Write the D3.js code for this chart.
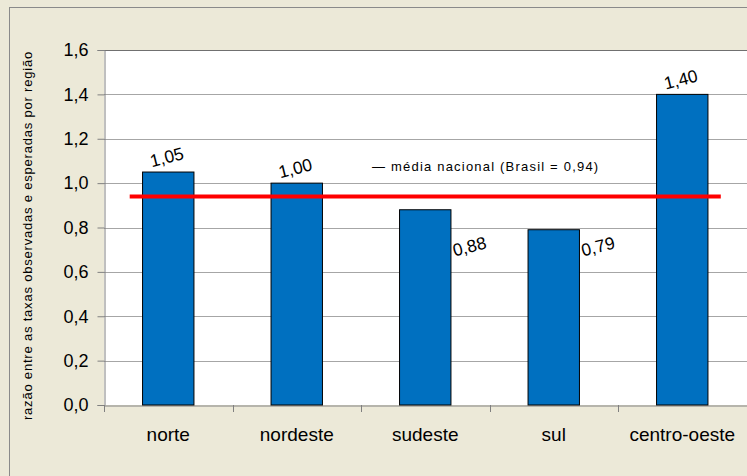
<!DOCTYPE html>
<html>
<head>
<meta charset="utf-8">
<script src="https://cdn.jsdelivr.net/npm/d3@7"></script>
<style>
  body { margin: 0; background: #ECE9D8; }
  text { font-family: "Liberation Sans", Arial, sans-serif; }
</style>
</head>
<body>
<div id="chart-area"></div>
<script>
// data
const regions = ["norte", "nordeste", "sudeste", "sul", "centro-oeste"]
const ratios = [1.05, 1.00, 0.88, 0.79, 1.40]
const labelPlace = ["top", "top", "right", "right", "top"]
const refValue = 0.94
const yTicks = [0, 0.2, 0.4, 0.6, 0.8, 1.0, 1.2, 1.4, 1.6]
const yTitle = "razão entre as taxas observadas e esperadas por região"
const refLabel = "— média nacional (Brasil = 0,94)"

const W = 747, H = 476
const MARGIN = { LEFT: 104, TOP: 50, RIGHT: 0.5, BOTTOM: 71 }
const WIDTH = W - MARGIN.LEFT - MARGIN.RIGHT
const HEIGHT = H - MARGIN.TOP - MARGIN.BOTTOM

const fmt = v => d3.format(".2f")(v).replace(".", ",")
const fmtTick = v => d3.format(".1f")(v).replace(".", ",")

const svg = d3.select("#chart-area").append("svg")
  .attr("width", W)
  .attr("height", H)

// outer chart area
svg.append("rect")
  .attr("x", 9.5).attr("y", 7.5)
  .attr("width", W + 20).attr("height", H + 20)
  .attr("fill", "#ECE9D8")
  .attr("stroke", "#8a8a8a")

const g = svg.append("g")
  .attr("transform", `translate(${MARGIN.LEFT}, ${MARGIN.TOP})`)

g.append("rect")
  .attr("width", WIDTH + 10).attr("height", HEIGHT)
  .attr("fill", "#fff")

const x = d3.scaleBand()
  .domain(regions)
  .range([0, WIDTH])
  .paddingInner(0.6)
  .paddingOuter(0.3)

const step = x.step()

const y = d3.scaleLinear()
  .domain([0, 1.6])
  .range([HEIGHT, 0])

// gridlines
g.selectAll(".grid").data(yTicks.filter(d => d > 0))
  .enter().append("line")
  .attr("x1", 0).attr("x2", WIDTH + 10)
  .attr("y1", d => Math.round(y(d)) + 0.5).attr("y2", d => Math.round(y(d)) + 0.5)
  .attr("stroke", d => d === 1.6 ? "#707070" : "#a6a6a6")
  .attr("stroke-width", 1)

// y axis
const yAxis = g.append("g")
  .attr("transform", "translate(0.5,0)")
  .call(d3.axisLeft(y).tickValues(yTicks).tickFormat(fmtTick).tickSize(7).tickPadding(9))
yAxis.select(".domain").attr("stroke", "#808080")
yAxis.selectAll(".tick line").attr("stroke", "#808080")
yAxis.selectAll(".tick text")
  .attr("font-size", "18px")
  .attr("fill", "#000")
  .attr("font-family", "Liberation Sans, Arial, sans-serif")

// x axis
const xAxis = g.append("g")
  .attr("transform", `translate(0, ${Math.round(HEIGHT) + 0.5})`)
  .call(d3.axisBottom(x).tickSize(0).tickPadding(22))
xAxis.select(".domain").attr("stroke", "#808080")
xAxis.selectAll(".tick text")
  .attr("font-size", "19px")
  .attr("fill", "#000")
  .attr("font-family", "Liberation Sans, Arial, sans-serif")

// category separators
g.selectAll(".sep").data(d3.range(regions.length))
  .enter().append("line")
  .attr("x1", i => Math.round(i * step) + 0.5)
  .attr("x2", i => Math.round(i * step) + 0.5)
  .attr("y1", HEIGHT).attr("y2", HEIGHT + 7)
  .attr("stroke", "#808080")

// bars
g.selectAll(".bar").data(ratios)
  .enter().append("rect")
  .attr("x", (d, i) => x(regions[i]))
  .attr("y", d => y(d))
  .attr("width", x.bandwidth())
  .attr("height", d => HEIGHT - y(d))
  .attr("fill", "#0070C0")
  .attr("stroke", "#000")
  .attr("stroke-width", 1)

// reference line
const x0 = x(regions[0]) + x.bandwidth() / 2 - 0.3 * step
const x1 = x(regions[regions.length - 1]) + x.bandwidth() / 2 + 0.3 * step
g.append("line")
  .attr("x1", x0).attr("x2", x1)
  .attr("y1", y(refValue)).attr("y2", y(refValue))
  .attr("stroke", "#FF0000")
  .attr("stroke-width", 4)

g.append("text")
  .attr("x", 268).attr("y", 121)
  .attr("font-size", "13px")
  .attr("letter-spacing", "1.2px")
  .text(refLabel)

// value labels
g.selectAll(".val").data(ratios)
  .enter().append("text")
  .attr("font-size", "17.5px")
  .attr("text-anchor", "middle")
  .attr("transform", (d, i) => {
    const cx = x(regions[i]) + x.bandwidth() / 2
    const px = labelPlace[i] === "top" ? cx : x(regions[i]) + x.bandwidth() + 20
    const py = labelPlace[i] === "top" ? y(d) - 9 : y(0.715) + 6
    return `translate(${px},${py}) rotate(-14)`
  })
  .text(d => fmt(d))

// y title
svg.append("text")
  .attr("transform", `translate(32, ${MARGIN.TOP + HEIGHT / 2 + 8}) rotate(-90)`)
  .attr("text-anchor", "middle")
  .attr("font-size", "13px")
  .attr("letter-spacing", "0.8px")
  .text(yTitle)
</script>
</body>
</html>
